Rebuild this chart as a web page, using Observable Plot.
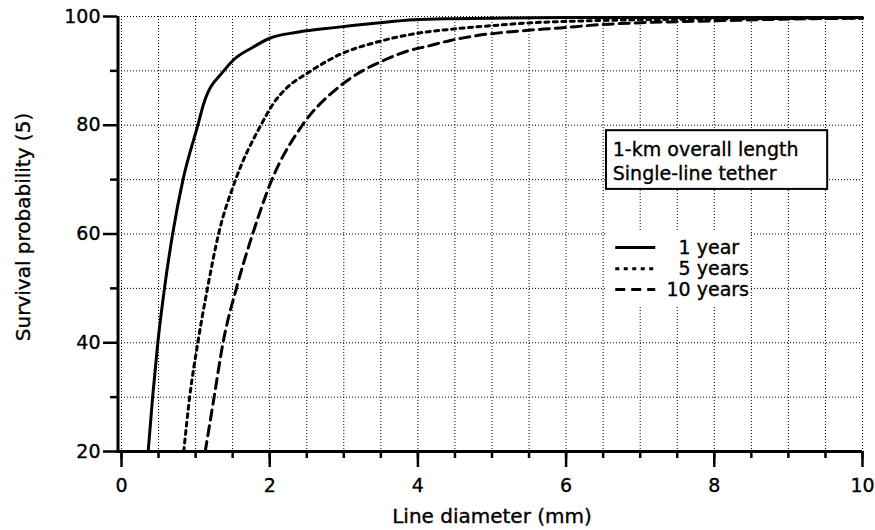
<!DOCTYPE html>
<html>
<head>
<meta charset="utf-8">
<script src="https://cdn.jsdelivr.net/npm/d3@7"></script>
<script src="https://cdn.jsdelivr.net/npm/@observablehq/plot@0.6"></script>
<style>
  html, body { margin: 0; padding: 0; background: #fff; }
  #chart { width: 875px; height: 530px; }
  #chart svg text { stroke: #000; stroke-width: 0.35px; }
</style>
</head>
<body>
<div id="chart"></div>
<script>
// Survival probability of a 1-km single-line tether versus line diameter
const seriesNames = ["1 year", "5 years", "10 years"];

const diam1yr = [0.36, 0.42, 0.49, 0.58, 0.69, 0.83, 1.03, 1.11, 1.38, 1.51, 1.78, 2.00, 2.37, 2.90, 3.45, 3.95, 4.50, 5.00, 6.00, 8.00, 10.0];
const surv1yr = [20, 30, 40, 50, 60, 70, 80, 84, 90, 92, 94.4, 96, 97.1, 98, 98.8, 99.4, 99.6, 99.7, 99.8, 99.8, 99.8];

const diam5yr = [0.84, 0.92, 1.03, 1.16, 1.31, 1.54, 1.88, 2.05, 2.24, 2.50, 2.96, 3.45, 3.94, 4.48, 4.98, 5.48, 6.00, 6.60, 7.50, 8.50, 10.0];
const surv5yr = [20, 30, 40, 50, 60, 70, 80, 84, 87, 89.5, 93.1, 95.3, 96.8, 97.7, 98.3, 98.8, 99.1, 99.3, 99.5, 99.6, 99.7];

const diam10yr = [1.13, 1.25, 1.37, 1.55, 1.77, 2.03, 2.44, 2.93, 3.25, 3.55, 3.85, 4.15, 4.44, 4.80, 5.34, 5.92, 6.46, 7.10, 8.00, 8.90, 10.0];
const surv10yr = [20, 30, 40, 50, 60, 70, 80, 87, 90, 92, 93.6, 94.6, 95.6, 96.5, 97.3, 97.9, 98.5, 98.9, 99.2, 99.5, 99.7];

const xMajorTicks = [0, 2, 4, 6, 8, 10];
const xMinorTicks = d3.range(0, 10.001, 0.5);
const yMajorTicks = [20, 40, 60, 80, 100];
const yMinorTicks = [30, 50, 70, 90];
const yGrid = [30, 40, 50, 60, 70, 80, 90, 100];

const noteLines = ["1-km overall length", "Single-line tether"];
const keyLabels = ["\u20071 year", "\u20075 years", "10 years"];

// Line styles per series
const dashes = [null, "4,4.5", "10,6"];

// Placement of the note box and the key, in axis units
const noteBox = {x1: 6.545, x2: 9.53, y1: 68.2, y2: 79.0, textX: 6.63, lineY: [75.5, 71.1]};
const keyBox = {x1: 6.53, x2: 8.49, y1: 46.8, y2: 60.3, lineX1: 6.67, lineX2: 7.21, textX: 7.355, rowY: [57.5, 53.6, 49.8]};

const series = [
  {name: seriesNames[0], d: diam1yr, s: surv1yr},
  {name: seriesNames[1], d: diam5yr, s: surv5yr},
  {name: seriesNames[2], d: diam10yr, s: surv10yr}
].map(o => o.d.map((d, i) => ({name: o.name, d, s: o.s[i]})));

const font = "'DejaVu Sans', Verdana, sans-serif";

const curveMarks = series.map((rows, i) => Plot.line(rows, {
  x: "d", y: "s", stroke: "black", strokeWidth: 3,
  strokeDasharray: dashes[i], curve: "monotone-x"
}));

const keyMarks = seriesNames.flatMap((name, i) => [
  Plot.ruleY([keyBox.rowY[i]], {x1: keyBox.lineX1, x2: keyBox.lineX2, y: d => d,
    stroke: "black", strokeWidth: 3, strokeDasharray: dashes[i]}),
  Plot.text([keyLabels[i]], {x: keyBox.textX, y: keyBox.rowY[i], text: d => d,
    textAnchor: "start", fontSize: 19, fill: "black"})
]);

const chart = Plot.plot({
  width: 875,
  height: 530,
  marginLeft: 121,
  marginRight: 13,
  marginTop: 16,
  marginBottom: 79,
  style: {fontFamily: font, fontSize: "19px", color: "black", background: "white"},
  x: {domain: [0, 10], label: null},
  y: {domain: [20, 100], label: null},
  marks: [
    // dotted grid
    Plot.gridX(xMinorTicks, {stroke: "black", strokeOpacity: 1, strokeWidth: 1, strokeDasharray: "1,2"}),
    Plot.gridY(yGrid, {stroke: "black", strokeOpacity: 1, strokeWidth: 1, strokeDasharray: "1,2"}),

    // white panels under the note and the key
    Plot.rect([noteBox], {x1: "x1", x2: "x2", y1: "y1", y2: "y2", fill: "white", stroke: "black", strokeWidth: 2}),
    Plot.rect([keyBox], {x1: "x1", x2: "x2", y1: "y1", y2: "y2", fill: "white"}),
    Plot.text(noteLines, {x: noteBox.textX, y: (d, i) => noteBox.lineY[i], text: d => d,
      textAnchor: "start", fontSize: 19, fill: "black"}),

    ...curveMarks,
    ...keyMarks,

    // axes
    Plot.ruleX([0], {dx: -3.5, strokeWidth: 3}),
    Plot.ruleY([20], {x1: -0.06, x2: 10, y: d => d, strokeWidth: 3}),
    Plot.axisX(xMinorTicks, {tickSize: 7, strokeWidth: 2.5, tickFormat: () => "", label: null}),
    Plot.axisX(xMajorTicks, {tickSize: 16, tickPadding: 11, strokeWidth: 2.5, label: null, fontSize: 19}),
    Plot.axisY(yMinorTicks, {tickSize: 7, dx: -4, strokeWidth: 2.5, tickFormat: () => "", label: null}),
    Plot.axisY(yMajorTicks, {tickSize: 14, tickPadding: 3, dx: -4, strokeWidth: 2.5, label: null, fontSize: 19}),

    // axis titles
    Plot.text(["Line diameter (mm)"], {frameAnchor: "bottom", dy: 71, text: d => d, fontSize: 20, fill: "black"}),
    Plot.text(["Survival probability (5)"], {frameAnchor: "left", textAnchor: "middle", lineAnchor: "middle",
      dx: -98, dy: -7, rotate: -90, text: d => d, fontSize: 20, fill: "black"})
  ]
});

document.getElementById("chart").appendChild(chart);
</script>
</body>
</html>
